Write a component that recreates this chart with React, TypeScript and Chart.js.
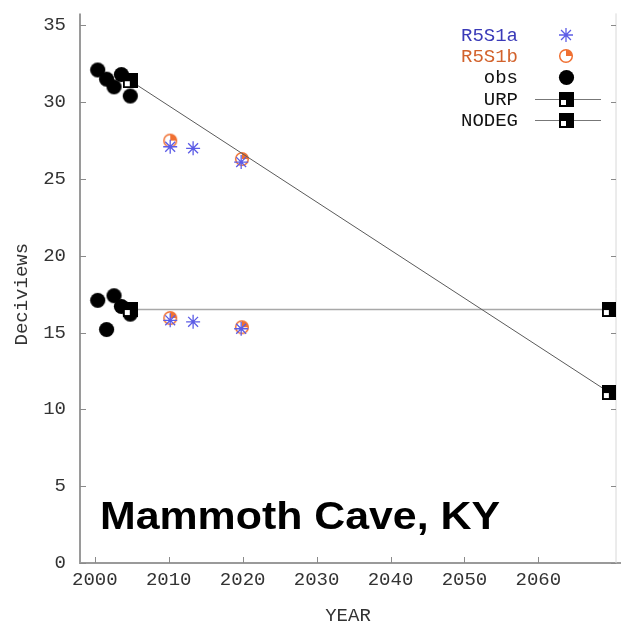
import React, { useEffect, useRef } from "react";
import { Chart, registerables } from "chart.js";

Chart.register(...registerables);

// Axis ticks
const YEAR_TICKS = [2000, 2010, 2020, 2030, 2040, 2050, 2060];
const VALUE_TICKS = [0, 5, 10, 15, 20, 25, 30, 35];

// Observed haze (worst days above, best days below)
const OBS_YEARS = [2000.4, 2001.6, 2002.6, 2003.6, 2004.8];
const OBS_WORST = [32.1, 31.5, 31.0, 31.8, 30.4];
const OBS_BEST = [17.1, 15.2, 17.4, 16.7, 16.2];

// Modelled scenario R5S1a
const R5S1A_YEARS = [2010.2, 2013.3, 2019.8];
const R5S1A_WORST = [27.1, 27.0, 26.1];
const R5S1A_BEST = [15.8, 15.7, 15.25];

// Modelled scenario R5S1b
const R5S1B_YEARS = [2010.2, 2019.9];
const R5S1B_WORST = [27.5, 26.3];
const R5S1B_BEST = [15.95, 15.35];

// Uniform rate of progress glide path and no-degradation line
const GLIDE_YEARS = [2004.8, 2069.6];
const URP_VALUES = [31.4, 11.1];
const NODEG_VALUES = [16.5, 16.5];

const SITE_NAME = "Mammoth Cave, KY";

const MONO = "'Liberation Mono', 'DejaVu Sans Mono', monospace";
const BLUE_TEXT = "#3a3ab8";
const ORANGE_TEXT = "#d2622c";
const STAR_COLOR = "#5c5ce6";
const ORANGE_MARK = "#f07032";

function pts(xs: number[], ys: number[]) {
  return xs.map((x, i) => ({ x, y: ys[i] }));
}

function makeMarker(size: number, draw: (g: CanvasRenderingContext2D, s: number) => void) {
  const c = document.createElement("canvas");
  c.width = size;
  c.height = size;
  const g = c.getContext("2d")!;
  draw(g, size);
  return c;
}

export default function App() {
  const canvasRef = useRef<HTMLCanvasElement | null>(null);

  useEffect(() => {
    const canvas = canvasRef.current;
    if (!canvas) return;

    const dotMark = makeMarker(17, (g, s) => {
      g.fillStyle = "#000";
      g.beginPath();
      g.arc(s / 2, s / 2, 7.6, 0, Math.PI * 2);
      g.fill();
    });

    const quarterMark = makeMarker(16, (g, s) => {
      const c = s / 2;
      g.fillStyle = ORANGE_MARK;
      g.beginPath();
      g.moveTo(c, c);
      g.arc(c, c, 6.3, -Math.PI / 2, 0);
      g.closePath();
      g.fill();
      g.strokeStyle = ORANGE_MARK;
      g.lineWidth = 1.5;
      g.beginPath();
      g.arc(c, c, 6.3, 0, Math.PI * 2);
      g.stroke();
    });

    const squareMark = makeMarker(15, (g, s) => {
      g.fillStyle = "#000";
      g.fillRect(0, 0, s, s);
      g.fillStyle = "#fff";
      g.fillRect(2, 8, 5, 5);
    });

    const frame = {
      id: "frame",
      beforeDatasetsDraw(chart: any) {
        const { ctx, chartArea } = chart;
        const { left, right, top, bottom } = chartArea;
        const xs = chart.scales.x;
        const ys = chart.scales.y;
        ctx.save();
        ctx.strokeStyle = "#9a9a9a";
        ctx.lineWidth = 2;
        ctx.beginPath();
        ctx.moveTo(left, top - 12);
        ctx.lineTo(left, bottom);
        ctx.lineTo(right + 5, bottom);
        ctx.stroke();
        ctx.strokeStyle = "#d8d8d8";
        ctx.lineWidth = 1;
        ctx.beginPath();
        ctx.moveTo(right, top - 12);
        ctx.lineTo(right, bottom);
        ctx.stroke();
        ctx.strokeStyle = "#8a8a8a";
        ctx.lineWidth = 1;
        ctx.beginPath();
        for (const v of VALUE_TICKS) {
          const y = Math.round(ys.getPixelForValue(v)) + 0.5;
          ctx.moveTo(left, y);
          ctx.lineTo(left + 6, y);
          ctx.moveTo(right - 5, y);
          ctx.lineTo(right, y);
        }
        for (const v of YEAR_TICKS) {
          const x = Math.round(xs.getPixelForValue(v)) + 0.5;
          ctx.moveTo(x, bottom);
          ctx.lineTo(x, bottom - 6);
        }
        ctx.stroke();
        ctx.restore();
      },
    };

    const legendAndTitle = {
      id: "legendAndTitle",
      afterDatasetsDraw(chart: any) {
        const { ctx } = chart;
        ctx.save();
        const textRight = 518;
        const markX = 566;
        const rows: { label: string; color: string; y: number; kind: string }[] = [
          { label: "R5S1a", color: BLUE_TEXT, y: 35, kind: "star" },
          { label: "R5S1b", color: ORANGE_TEXT, y: 56, kind: "quarter" },
          { label: "obs", color: "#111", y: 77, kind: "dot" },
          { label: "URP", color: "#111", y: 99, kind: "square" },
          { label: "NODEG", color: "#111", y: 120, kind: "square" },
        ];
        ctx.font = `19px ${MONO}`;
        ctx.textAlign = "right";
        ctx.textBaseline = "middle";
        for (const r of rows) {
          ctx.fillStyle = r.color;
          ctx.fillText(r.label, textRight, r.y + 1);
          if (r.kind === "square") {
            ctx.strokeStyle = "#777";
            ctx.lineWidth = 1;
            ctx.beginPath();
            ctx.moveTo(535, r.y + 0.5);
            ctx.lineTo(601, r.y + 0.5);
            ctx.stroke();
            ctx.drawImage(squareMark, markX - 7, r.y - 7);
          } else if (r.kind === "dot") {
            ctx.drawImage(dotMark, markX - 8, r.y - 8);
          } else if (r.kind === "quarter") {
            ctx.drawImage(quarterMark, markX - 8, r.y - 8);
          } else {
            ctx.strokeStyle = STAR_COLOR;
            ctx.lineWidth = 1.3;
            const rr = 7;
            const d = rr * Math.SQRT1_2;
            ctx.beginPath();
            ctx.moveTo(markX - rr, r.y);
            ctx.lineTo(markX + rr, r.y);
            ctx.moveTo(markX, r.y - rr);
            ctx.lineTo(markX, r.y + rr);
            ctx.moveTo(markX - d, r.y - d);
            ctx.lineTo(markX + d, r.y + d);
            ctx.moveTo(markX - d, r.y + d);
            ctx.lineTo(markX + d, r.y - d);
            ctx.stroke();
          }
        }

        // Site name inside the plot
        ctx.font = "bold 38px 'Liberation Sans', Arial, sans-serif";
        ctx.textAlign = "left";
        ctx.textBaseline = "alphabetic";
        ctx.fillStyle = "#000";
        const w = ctx.measureText(SITE_NAME).width;
        const targetW = 400;
        ctx.translate(100, 529);
        ctx.scale(targetW / w, 1);
        ctx.fillText(SITE_NAME, 0, 0);
        ctx.restore();
      },
    };

    const chart = new Chart(canvas, {
      type: "scatter",
      data: {
        datasets: [
          {
            type: "line",
            label: "URP",
            data: pts(GLIDE_YEARS, URP_VALUES),
            borderColor: "#5a5a5a",
            borderWidth: 1,
            showLine: true,
            pointStyle: squareMark as any,
            pointRadius: 7,
          },
          {
            type: "line",
            label: "NODEG",
            data: pts(GLIDE_YEARS, NODEG_VALUES),
            borderColor: "#a8a8a8",
            borderWidth: 1.5,
            showLine: true,
            pointStyle: squareMark as any,
            pointRadius: 7,
          },
          {
            label: "R5S1a",
            data: [...pts(R5S1A_YEARS, R5S1A_WORST), ...pts(R5S1A_YEARS, R5S1A_BEST)],
            pointStyle: "star",
            pointRadius: 7,
            borderColor: STAR_COLOR,
            backgroundColor: STAR_COLOR,
            borderWidth: 1.3,
          },
          {
            label: "R5S1b",
            data: [...pts(R5S1B_YEARS, R5S1B_WORST), ...pts(R5S1B_YEARS, R5S1B_BEST)],
            pointStyle: quarterMark as any,
            pointRadius: 7,
          },
          {
            label: "obs",
            data: [...pts(OBS_YEARS, OBS_WORST), ...pts(OBS_YEARS, OBS_BEST)],
            pointStyle: dotMark as any,
            pointRadius: 8,
          },
        ],
      },
      options: {
        responsive: false,
        animation: false,
        devicePixelRatio: 1,
        layout: { padding: { left: 0, right: 5, top: 18, bottom: 0 } },
        plugins: {
          legend: { display: false },
          tooltip: { enabled: false },
        },
        scales: {
          x: {
            type: "linear",
            min: 1998,
            max: 2070.5,
            grid: { display: false, drawTicks: false },
            border: { display: false },
            afterBuildTicks: (s: any) => {
              s.ticks = YEAR_TICKS.map((v) => ({ value: v }));
            },
            afterFit: (s: any) => {
              s.height = 64;
            },
            ticks: {
              padding: 6,
              color: "#333",
              font: { family: MONO, size: 19 },
              callback: (v: any) => String(v),
              maxRotation: 0,
              autoSkip: false,
            },
            title: {
              display: true,
              text: "YEAR",
              color: "#333",
              font: { family: MONO, size: 19 },
              padding: { top: 0, bottom: 0 },
            },
          },
          y: {
            type: "linear",
            min: 0,
            max: 35,
            grid: { display: false, drawTicks: false },
            border: { display: false },
            afterBuildTicks: (s: any) => {
              s.ticks = VALUE_TICKS.map((v) => ({ value: v }));
            },
            afterFit: (s: any) => {
              s.width = 80;
            },
            ticks: {
              padding: 14,
              color: "#333",
              font: { family: MONO, size: 19 },
              callback: (v: any) => String(v),
              autoSkip: false,
            },
            title: {
              display: true,
              text: "Deciviews",
              color: "#333",
              font: { family: MONO, size: 19 },
              padding: { top: 11, bottom: 0 },
            },
          },
        },
      },
      plugins: [frame, legendAndTitle],
    });

    return () => {
      chart.destroy();
    };
  }, []);

  return (
    <div
      style={{
        position: "absolute",
        left: 0,
        top: 0,
        width: 625,
        height: 627,
        background: "#fff",
      }}
    >
      <canvas ref={canvasRef} width={625} height={627} />
    </div>
  );
}
